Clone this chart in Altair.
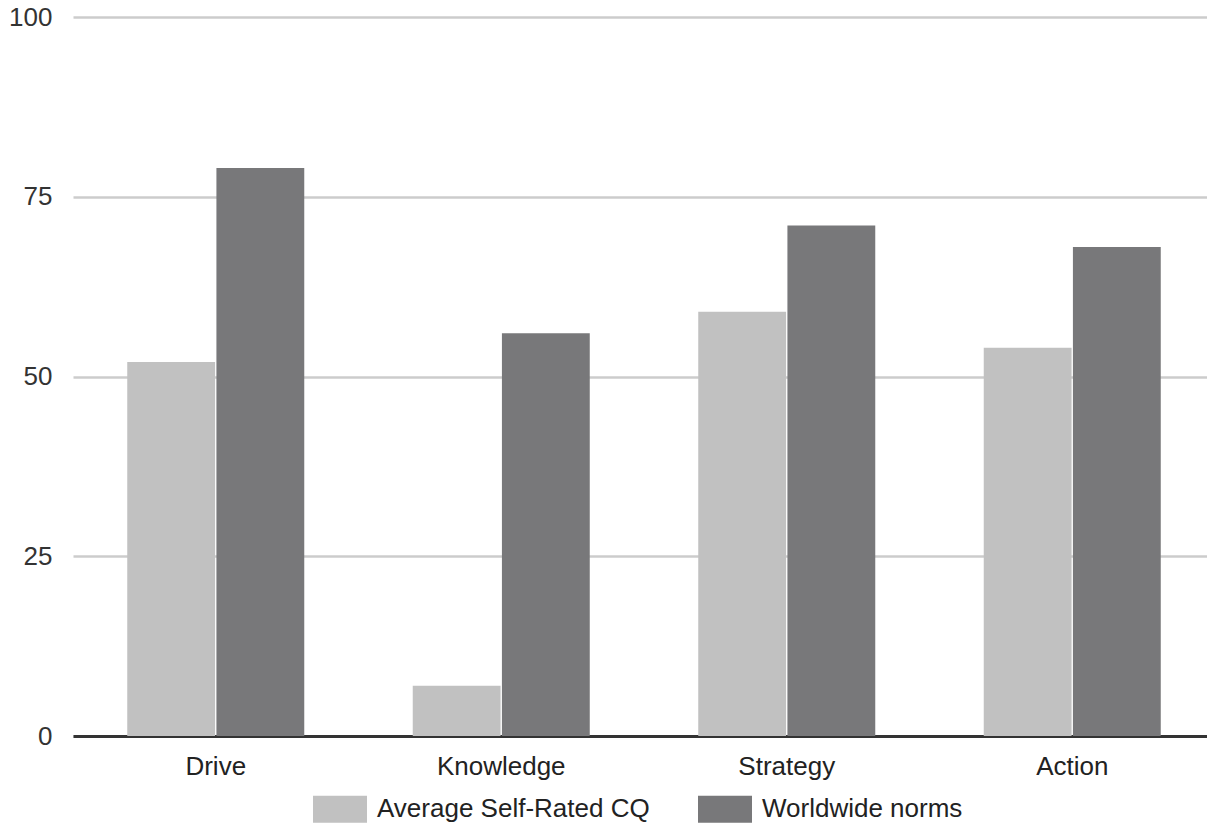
import altair as alt
import pandas as pd

categories = ["Drive", "Knowledge", "Strategy", "Action"]
series_names = ["Average Self-Rated CQ", "Worldwide norms"]
self_rated = [52, 7, 59, 54]
worldwide = [79, 56, 71, 68]
colors = ["#c1c1c1", "#78787a"]

rows = []
for c, a, w in zip(categories, self_rated, worldwide):
    rows.append({"cat": c, "series": series_names[0], "value": a})
    rows.append({"cat": c, "series": series_names[1], "value": w})
df = pd.DataFrame(rows)

FONT = "Liberation Sans"

chart = alt.Chart(df).mark_bar().encode(
    x=alt.X("cat:N", sort=categories,
            scale=alt.Scale(paddingInner=0.38, paddingOuter=0.19, range=[1, 1143]),
            axis=alt.Axis(title=None, labelAngle=0, ticks=False, labelPadding=17,
                          labelFontSize=26, labelFont=FONT, labelColor="#222222",
                          domainColor="#333333", domainWidth=3, grid=False)),
    xOffset=alt.XOffset("series:N", sort=series_names, scale=alt.Scale(paddingInner=0.015)),
    y=alt.Y("value:Q", scale=alt.Scale(domain=[0, 100], nice=False),
            axis=alt.Axis(title=None, values=[0, 25, 50, 75, 100], ticks=False, domain=False,
                          labelPadding=20, labelFontSize=26, labelFont=FONT,
                          labelColor="#333333", gridColor="#cccccc", gridWidth=2.5)),
    color=alt.Color("series:N", sort=series_names,
                    scale=alt.Scale(domain=series_names, range=colors),
                    legend=alt.Legend(title=None, orient="none", legendX=241, legendY=765,
                                      direction="horizontal", columns=2,
                                      symbolType="M-1,-0.5H1V0.5H-1Z", symbolSize=2916,
                                      symbolStrokeWidth=0, symbolOpacity=1,
                                      labelFontSize=26, labelFont=FONT, labelColor="#222222",
                                      labelOffset=10, columnPadding=48, labelLimit=600,
                                      padding=0)),
).properties(
    width=1135, height=719,
    autosize=alt.AutoSizeParams(type="none"),
    padding={"left": 72, "top": 17, "right": 0, "bottom": 89},
).configure_view(stroke=None)

chart.save("out.html", embed_options={"renderer": "svg", "actions": False})
